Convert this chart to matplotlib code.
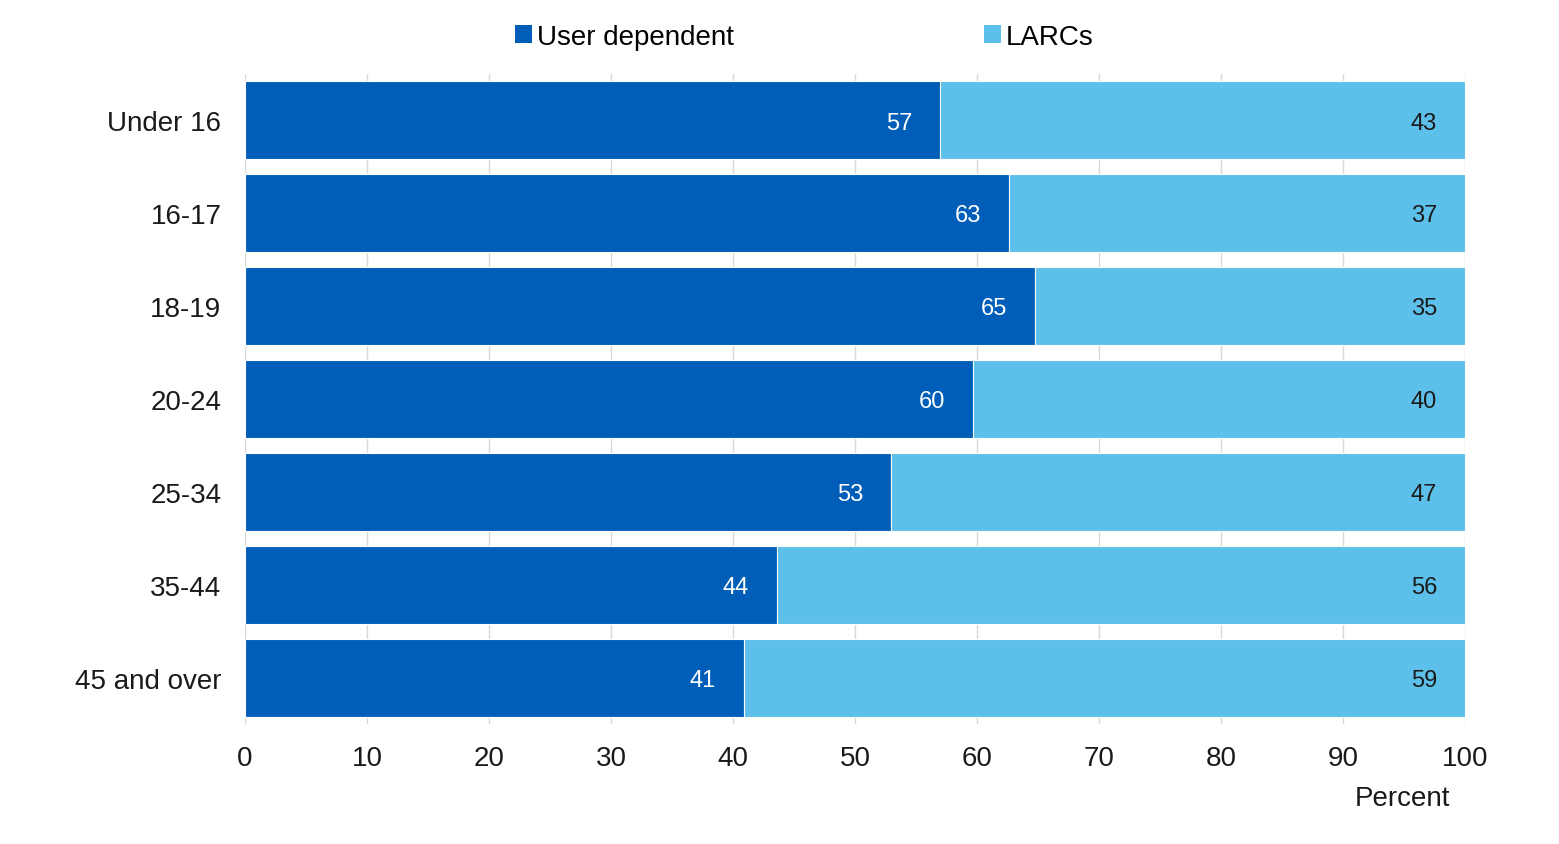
import matplotlib
matplotlib.use("Agg")
import matplotlib.pyplot as plt
from matplotlib.patches import Patch
import numpy as np

# 数据
age_groups = ["Under 16", "16-17", "18-19", "20-24", "25-34", "35-44", "45 and over"]
user_dependent = [56.97, 62.6, 64.75, 59.67, 52.95, 43.6, 40.9]
larcs = [100 - v for v in user_dependent]
user_labels = ["57", "63", "65", "60", "53", "44", "41"]
larc_labels = ["43", "37", "35", "40", "47", "56", "59"]
x_ticks = [0, 10, 20, 30, 40, 50, 60, 70, 80, 90, 100]

dark_blue = "#005EB8"
light_blue = "#5DC0EA"

plt.rcParams["font.family"] = ["Liberation Sans", "DejaVu Sans"]

fig = plt.figure(figsize=(15.59, 8.45), dpi=100)
ax = fig.add_axes([0.1572, 0.1420, 0.7825, 0.7692])

y = np.arange(len(age_groups))
bar_h = 0.84
ax.barh(y, user_dependent, height=bar_h, color=dark_blue, edgecolor="white", linewidth=0.8, zorder=3)
ax.barh(y, larcs, left=user_dependent, height=bar_h, color=light_blue, edgecolor="white", linewidth=0.8, zorder=3)

# 数值标签
for i in range(len(age_groups)):
    ax.annotate(user_labels[i], xy=(user_dependent[i], y[i]), xytext=(-20, -1.5),
                textcoords="offset points", ha="right", va="center",
                color="white", fontsize=17, zorder=4)
    ax.annotate(larc_labels[i], xy=(100, y[i]), xytext=(-20, -1.5),
                textcoords="offset points", ha="right", va="center",
                color="#1a1a1a", fontsize=17, zorder=4)

ax.set_xlim(0, 100)
ax.set_ylim(len(age_groups) - 0.5, -0.5)
ax.set_xticks(x_ticks)
ax.set_yticks(y)
ax.set_yticklabels(age_groups)
ax.tick_params(axis="both", length=0, labelsize=20, colors="#1a1a1a")
ax.tick_params(axis="y", pad=17)
ax.tick_params(axis="x", pad=15)
ax.grid(axis="x", color="#d9d9d9", linewidth=1, zorder=0)
for s in ax.spines.values():
    s.set_visible(False)

fig.text(1450 / 1559, 1 - 799 / 845, "Percent", ha="right", va="center",
         fontsize=20, color="#1a1a1a")

handles = [Patch(facecolor=dark_blue, label="User dependent"),
           Patch(facecolor=light_blue, label="LARCs")]
fig.legend(handles=handles, loc="center", bbox_to_anchor=(0.516, 0.955), ncol=2,
           frameon=False, fontsize=20, handlelength=0.6, handleheight=0.6,
           handletextpad=0.2, columnspacing=9)

fig.savefig("out.png", dpi=100)
plt.close(fig)
